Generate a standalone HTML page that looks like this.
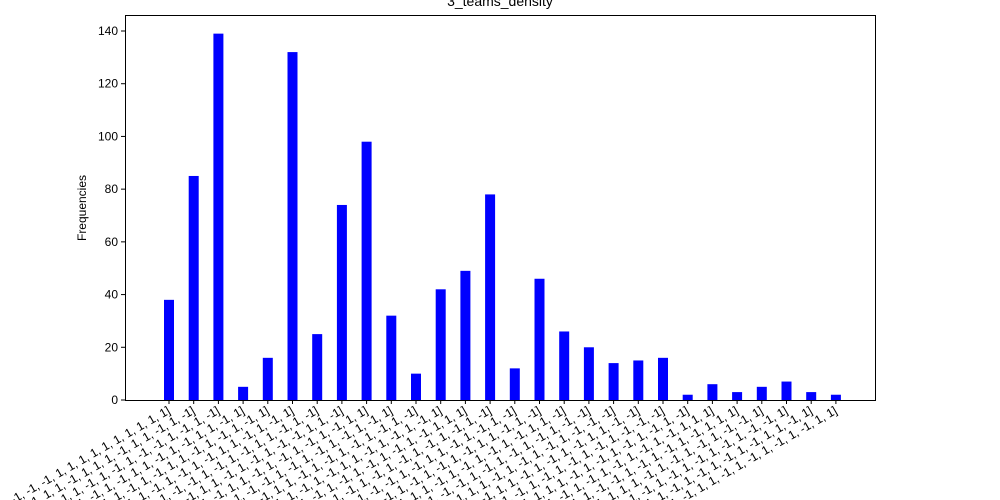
<!DOCTYPE html>
<html><head><meta charset="utf-8"><style>
html,body{margin:0;padding:0;background:#fff;overflow:hidden;}
svg{display:block;font-family:"Liberation Sans","DejaVu Sans",sans-serif;}
</style></head><body>
<svg id="chart" width="1000" height="500" viewBox="0 0 1000 500">
<text x="500" y="6" font-size="14" text-anchor="middle">3_teams_density</text>
<text transform="translate(86,208) rotate(-90)" font-size="12" text-anchor="middle">Frequencies</text>
<g id="bars"></g><g id="yticks"></g><g id="xticks"></g>
<rect x="125.5" y="15.5" width="750" height="385" fill="none" stroke="#000" stroke-width="1"/>
</svg>
<script>
const categories = [
"[-1, -1, -1, -1, -1, -1, -1, -1, 1, 1, 1, 1, 1, 1, 1, 1, 1, 1]","[-1, -1, 1, -1, 1, -1, 1, 1, -1, 1, 1, 1, -1, 1, 1, -1, 1, -1]","[-1, 1, -1, 1, -1, 1, -1, 1, -1, 1, -1, 1, -1, -1, 1, -1, 1, -1]","[1, -1, 1, -1, -1, 1, -1, 1, -1, 1, 1, -1, 1, -1, 1, 1, -1, 1]",
"[-1, 1, 1, -1, 1, -1, 1, -1, 1, -1, 1, 1, -1, 1, -1, 1, -1, 1]","[1, 1, -1, 1, -1, 1, 1, -1, 1, -1, 1, -1, 1, 1, -1, 1, -1, 1]","[-1, 1, -1, 1, 1, -1, 1, -1, -1, 1, -1, 1, -1, 1, 1, -1, 1, -1]","[1, -1, 1, 1, -1, 1, -1, 1, 1, -1, 1, -1, 1, -1, -1, 1, 1, -1]",
"[-1, 1, -1, -1, 1, 1, -1, 1, 1, -1, 1, -1, 1, -1, 1, -1, 1, 1]","[1, -1, 1, 1, -1, -1, 1, -1, -1, 1, -1, 1, -1, 1, -1, 1, -1, 1]","[-1, 1, 1, -1, 1, -1, -1, 1, 1, -1, 1, -1, 1, -1, 1, -1, 1, -1]","[1, -1, -1, 1, -1, 1, 1, -1, 1, -1, 1, 1, -1, 1, -1, 1, -1, 1]",
"[-1, 1, -1, 1, -1, 1, -1, 1, -1, 1, -1, 1, -1, 1, -1, 1, 1, 1]","[1, -1, 1, -1, 1, -1, 1, -1, 1, -1, 1, -1, 1, -1, 1, -1, 1, -1]","[-1, 1, -1, 1, 1, -1, 1, -1, -1, 1, -1, 1, 1, -1, 1, -1, 1, -1]","[1, -1, 1, -1, 1, 1, -1, 1, -1, 1, -1, 1, -1, 1, 1, -1, 1, -1]",
"[-1, 1, -1, 1, -1, -1, 1, 1, -1, 1, -1, 1, -1, 1, -1, 1, 1, -1]","[1, -1, 1, -1, 1, 1, -1, -1, -1, 1, -1, 1, -1, 1, -1, 1, -1, -1]","[-1, 1, -1, 1, 1, -1, 1, 1, 1, -1, 1, -1, 1, -1, 1, -1, -1, -1]","[1, -1, 1, -1, -1, 1, -1, 1, 1, -1, 1, -1, 1, -1, 1, 1, -1, -1]",
"[-1, 1, 1, 1, -1, 1, -1, -1, 1, -1, 1, -1, 1, -1, 1, -1, -1, -1]","[1, -1, -1, -1, 1, -1, 1, 1, 1, -1, 1, -1, 1, -1, 1, -1, 1, -1]","[-1, 1, 1, -1, 1, 1, -1, 1, -1, 1, -1, 1, -1, 1, -1, 1, 1, 1]","[1, -1, -1, 1, -1, -1, 1, -1, -1, 1, -1, 1, -1, 1, -1, 1, 1, 1]",
"[-1, 1, -1, 1, 1, -1, 1, 1, 1, -1, 1, -1, 1, -1, 1, -1, -1, 1]","[1, -1, 1, 1, -1, 1, -1, -1, 1, -1, 1, -1, 1, -1, 1, -1, -1, 1]","[-1, 1, -1, -1, 1, -1, 1, -1, 1, -1, 1, -1, 1, -1, 1, 1, -1, 1]","[1, -1, 1, 1, -1, 1, -1, 1, 1, -1, 1, -1, 1, -1, 1, -1, 1, 1]"];
const values = [38,85,139,5,16,132,25,74,98,32,10,42,49,78,12,46,26,20,14,15,16,2,6,3,5,7,3,2];
const yTicks = [0,20,40,60,80,100,120,140];
const NS="http://www.w3.org/2000/svg";
const x0=169, step=24.7, bw=10;
function xPos(i){return x0+i*step;}
function yPos(v){return 400 - v*369/140;}
const bars=document.getElementById('bars'), xt=document.getElementById('xticks'), yt=document.getElementById('yticks');
values.forEach((v,i)=>{
  const r=document.createElementNS(NS,'rect');
  
  
  r.setAttribute('x',xPos(i)-bw/2);r.setAttribute('y',yPos(v));
  r.setAttribute('width',bw);r.setAttribute('height',400-yPos(v));r.setAttribute('fill','#0000ff');
  bars.appendChild(r);
  const t=document.createElementNS(NS,'line');
  
  
  t.setAttribute('x1',xPos(i));t.setAttribute('x2',xPos(i));t.setAttribute('y1',400);t.setAttribute('y2',404);t.setAttribute('stroke','#000');
  xt.appendChild(t);
  const l=document.createElementNS(NS,'text');
  
  
  l.setAttribute('font-size','12');l.setAttribute('text-anchor','end');
  l.setAttribute('transform','translate('+(xPos(i)+2)+',413) rotate(-30)');
  l.textContent=categories[i];
  xt.appendChild(l);
});
yTicks.forEach(v=>{
  const t=document.createElementNS(NS,'line');
  
  
  t.setAttribute('x1',121);t.setAttribute('x2',125);t.setAttribute('y1',yPos(v));t.setAttribute('y2',yPos(v));t.setAttribute('stroke','#000');
  yt.appendChild(t);
  const l=document.createElementNS(NS,'text');
  
  
  l.setAttribute('x',118);l.setAttribute('y',yPos(v)+4);l.setAttribute('font-size','12');l.setAttribute('text-anchor','end');
  l.textContent=v;
  yt.appendChild(l);
});
</script>
</body></html>
